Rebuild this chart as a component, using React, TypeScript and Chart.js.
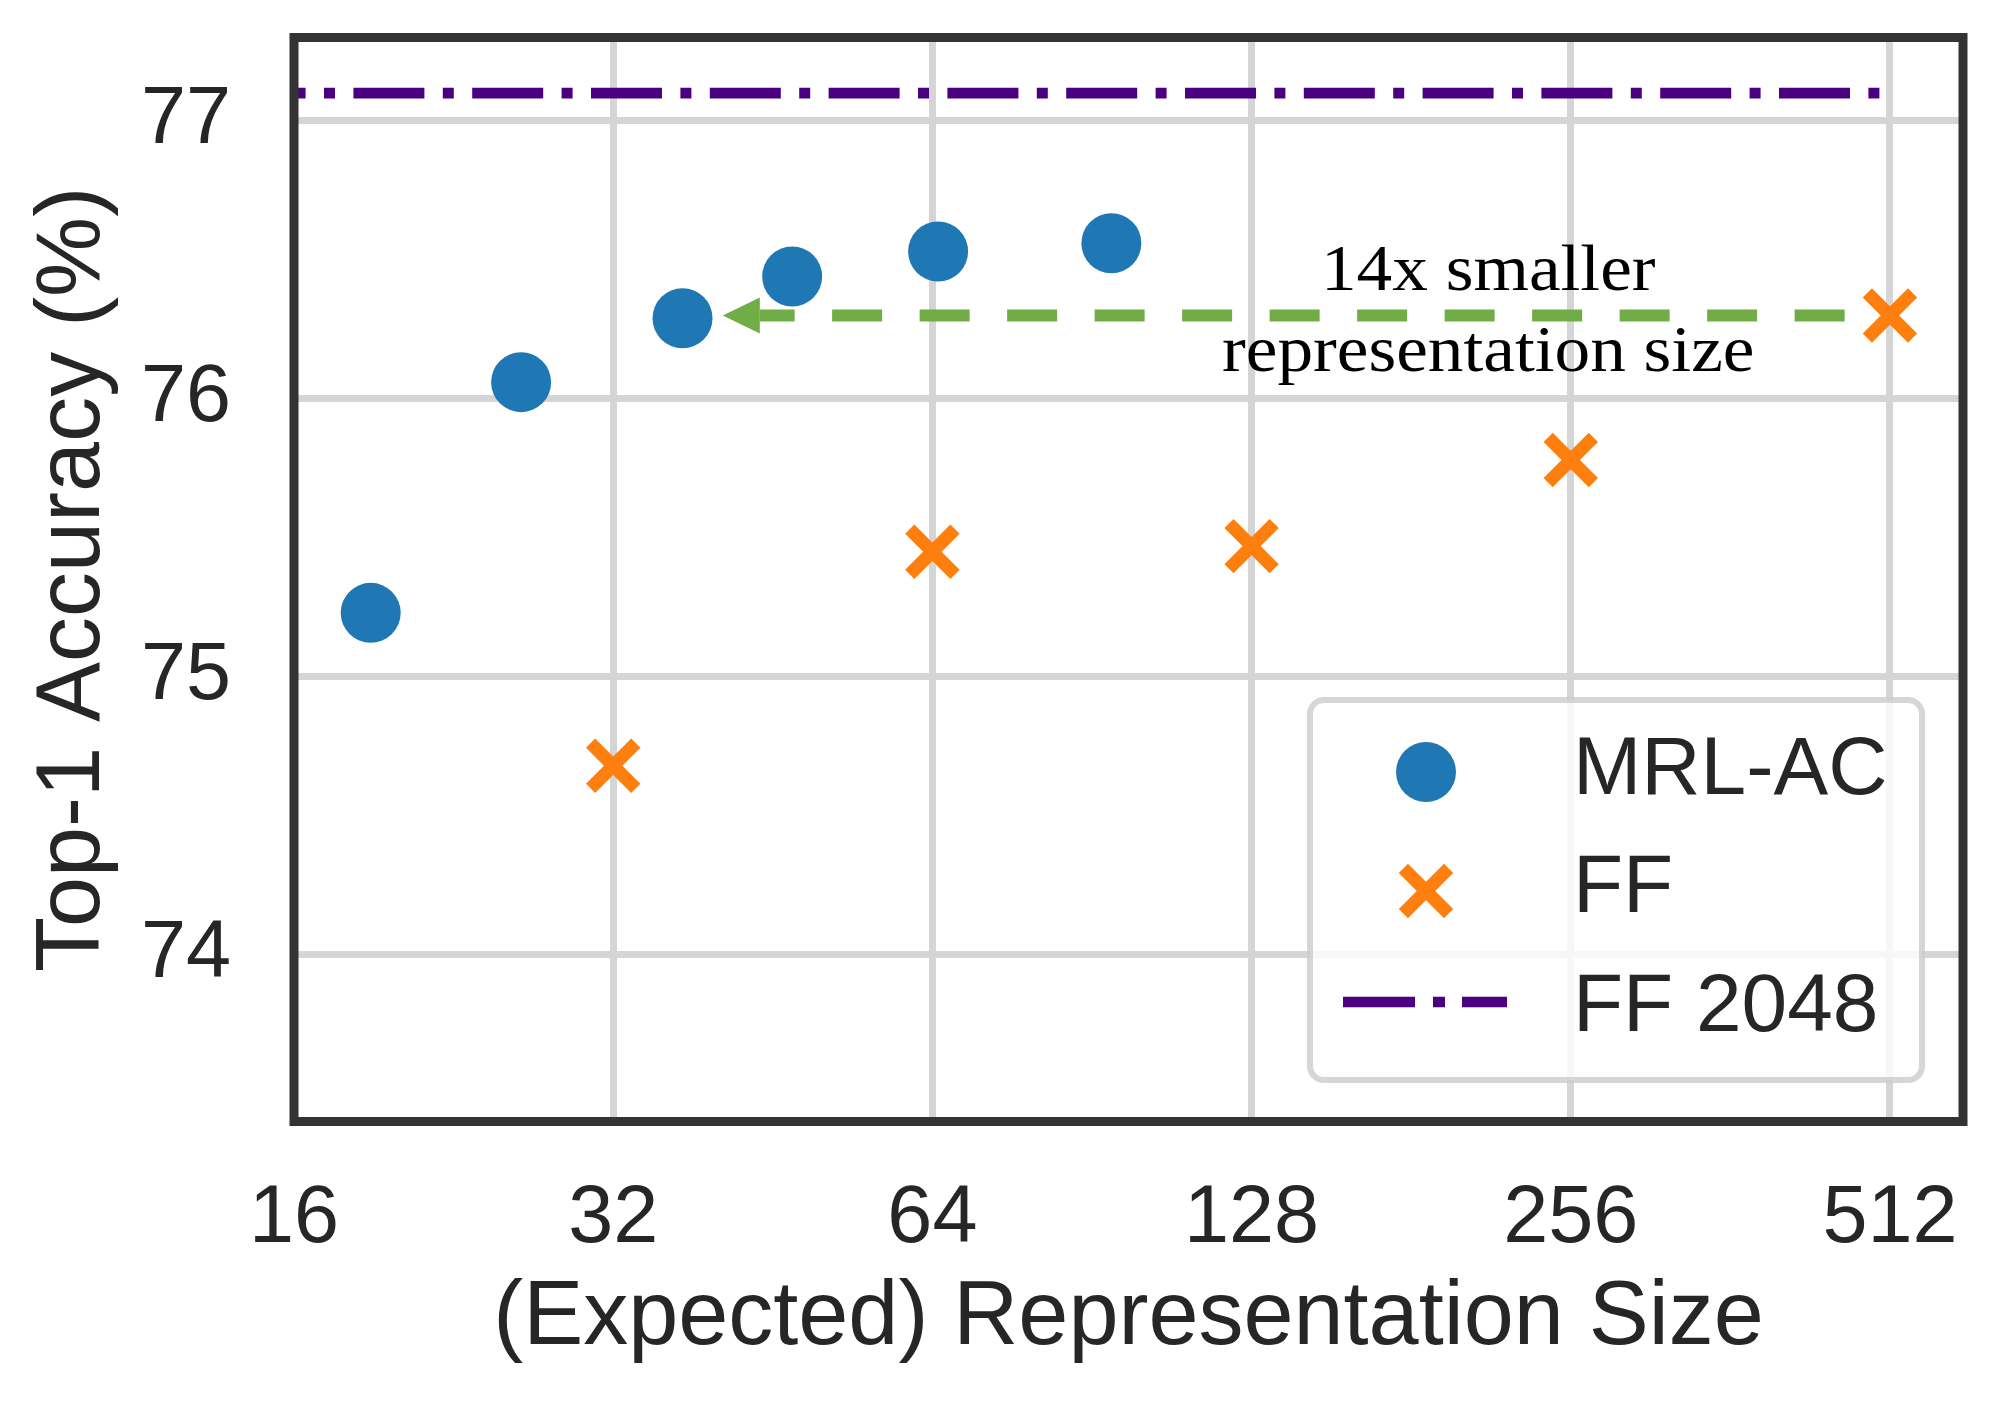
import React, { useEffect, useRef } from 'react';
import Chart from 'chart.js/auto';

// MRL-AC: expected representation size vs top-1 accuracy
const mrlSizes = [18.9, 26.2, 37.2, 47.2, 64.8, 94.4];
const mrlAcc = [75.23, 76.06, 76.29, 76.44, 76.53, 76.56];

// FF (fixed features)
const ffSizes = [32, 64, 128, 256, 512];
const ffAcc = [74.68, 75.45, 75.47, 75.78, 76.3];

// FF 2048 reference line
const ff2048Sizes = [16, 507];
const ff2048Acc = 77.1;

const xTicks = [16, 32, 64, 128, 256, 512];
const yTicks = [74, 75, 76, 77];

// annotation arrow (from FF 512 back to MRL-AC) and its note
const arrowSizes = [464, 40.6];
const arrowAcc = 76.3;
const noteLines = ['14x smaller', 'representation size'];
const noteSize = 214;
const noteAcc = [76.39, 76.1];

const BLUE = '#1f77b4';
const ORANGE = '#ff7f0e';
const INDIGO = '#4b0082';
const GREEN = '#70ad47';
const TEXT = '#262626';
const SANS = '"Liberation Sans", Arial, sans-serif';

const fixScale = (size: { width?: number; height?: number }) => (scale: any) => {
  if (size.width !== undefined) scale.width = size.width;
  if (size.height !== undefined) scale.height = size.height;
  scale.paddingLeft = 0;
  scale.paddingRight = 0;
  scale.paddingTop = 0;
  scale.paddingBottom = 0;
};

const overlay = {
  id: 'overlay',
  afterDatasetsDraw(chart: any) {
    const { ctx, chartArea: a, scales } = chart;
    const x = scales.x;
    const y = scales.y;
    ctx.save();

    // dashed arrow
    const x0 = x.getPixelForValue(arrowSizes[0]);
    const x1 = x.getPixelForValue(arrowSizes[1]);
    const ay = y.getPixelForValue(arrowAcc);
    const head = 37;
    ctx.strokeStyle = GREEN;
    ctx.lineWidth = 12;
    ctx.setLineDash([50, 37.5]);
    ctx.beginPath();
    ctx.moveTo(x0, ay);
    ctx.lineTo(x1 + head, ay);
    ctx.stroke();
    ctx.setLineDash([]);
    ctx.fillStyle = GREEN;
    ctx.beginPath();
    ctx.moveTo(x1, ay);
    ctx.lineTo(x1 + head, ay - 18);
    ctx.lineTo(x1 + head, ay + 18);
    ctx.closePath();
    ctx.fill();

    // note text
    ctx.fillStyle = '#000';
    ctx.font = '66px "Liberation Serif", "Times New Roman", serif';
    ctx.textAlign = 'center';
    ctx.textBaseline = 'alphabetic';
    const nx = x.getPixelForValue(noteSize);
    noteLines.forEach((t, i) => {
      ctx.save();
      ctx.translate(nx, y.getPixelForValue(noteAcc[i]));
      ctx.scale(1.08, 1);
      ctx.fillText(t, 0, 0);
      ctx.restore();
    });

    // frame
    ctx.strokeStyle = '#333333';
    ctx.lineWidth = 9;
    ctx.strokeRect(a.left, a.top, a.right - a.left, a.bottom - a.top);

    // legend
    const lw = 612;
    const lh = 380;
    const lx = a.right - 41 - lw;
    const ly = a.bottom - 41.5 - lh;
    ctx.beginPath();
    ctx.roundRect(lx, ly, lw, lh, 14);
    ctx.fillStyle = 'rgba(255,255,255,0.8)';
    ctx.fill();
    ctx.strokeStyle = 'rgba(204,204,204,0.8)';
    ctx.lineWidth = 6;
    ctx.stroke();

    const mx = lx + 116;
    // circle
    ctx.fillStyle = BLUE;
    ctx.beginPath();
    ctx.arc(mx, ly + 72, 30, 0, Math.PI * 2);
    ctx.fill();
    // cross
    const c = 32 * Math.SQRT1_2;
    const cy = ly + 191;
    ctx.strokeStyle = ORANGE;
    ctx.lineWidth = 13;
    ctx.beginPath();
    ctx.moveTo(mx - c, cy - c);
    ctx.lineTo(mx + c, cy + c);
    ctx.moveTo(mx - c, cy + c);
    ctx.lineTo(mx + c, cy - c);
    ctx.stroke();
    // dash-dot line
    ctx.strokeStyle = INDIGO;
    ctx.lineWidth = 10.7;
    ctx.setLineDash([72, 18, 12, 17]);
    ctx.beginPath();
    ctx.moveTo(lx + 33, ly + 302);
    ctx.lineTo(lx + 197, ly + 302);
    ctx.stroke();
    ctx.setLineDash([]);

    ctx.fillStyle = TEXT;
    ctx.font = `82px ${SANS}`;
    ctx.textAlign = 'left';
    ctx.textBaseline = 'alphabetic';
    const labels = chart.data.datasets.map((d: any) => d.label);
    [94, 212, 331].forEach((dy, i) => ctx.fillText(labels[i], lx + 263, ly + dy));

    ctx.restore();
  },
};

const App: React.FC = () => {
  const canvasRef = useRef<HTMLCanvasElement>(null);

  useEffect(() => {
    document.body.style.margin = '0';
    if (!canvasRef.current) return;
    const chart = new Chart(canvasRef.current, {
      type: 'scatter',
      data: {
        datasets: [
          {
            label: 'MRL-AC',
            data: mrlSizes.map((s, i) => ({ x: s, y: mrlAcc[i] })),
            pointStyle: 'circle',
            pointRadius: 30,
            pointBackgroundColor: BLUE,
            pointBorderWidth: 0,
            showLine: false,
          },
          {
            label: 'FF',
            data: ffSizes.map((s, i) => ({ x: s, y: ffAcc[i] })),
            pointStyle: 'crossRot',
            pointRadius: 32,
            pointBorderColor: ORANGE,
            pointBorderWidth: 13,
            showLine: false,
          },
          {
            label: 'FF 2048',
            data: ff2048Sizes.map((s) => ({ x: s, y: ff2048Acc })),
            showLine: true,
            borderColor: INDIGO,
            borderWidth: 10.7,
            borderDash: [71, 18.4, 11, 18.4],
            borderDashOffset: 59.4,
            pointRadius: 0,
            fill: false,
          },
        ],
      } as any,
      options: {
        animation: false,
        responsive: false,
        devicePixelRatio: 1,
        layout: { autoPadding: false, padding: { left: 0, top: 37.5, right: 37, bottom: 0 } },
        plugins: { legend: { display: false }, tooltip: { enabled: false } },
        scales: {
          x: {
            type: 'logarithmic',
            min: 16,
            max: 600,
            afterBuildTicks: (s: any) => {
              s.ticks = xTicks.map((v) => ({ value: v }));
            },
            afterFit: fixScale({ height: 286.5 }),
            grid: { color: '#d5d5d5', lineWidth: 7, drawTicks: false },
            border: { display: false },
            ticks: {
              autoSkip: false,
              maxRotation: 0,
              minRotation: 0,
              padding: 58,
              color: TEXT,
              font: { family: SANS, size: 81, lineHeight: 1 },
              callback: (v: any) => String(v),
            },
            title: {
              display: true,
              text: '(Expected) Representation Size',
              color: TEXT,
              font: { family: SANS, size: 90, lineHeight: 1 },
              padding: { top: 0, bottom: 44 },
            },
          },
          y: {
            type: 'linear',
            min: 73.4,
            max: 77.3,
            afterBuildTicks: (s: any) => {
              s.ticks = yTicks.map((v) => ({ value: v }));
            },
            afterFit: fixScale({ width: 294 }),
            grid: { color: '#d5d5d5', lineWidth: 7, drawTicks: false },
            border: { display: false },
            ticks: {
              padding: 63,
              color: TEXT,
              font: { family: SANS, size: 81, lineHeight: 1 },
              callback: (v: any) => String(v),
            },
            title: {
              display: true,
              text: 'Top-1 Accuracy (%)',
              color: TEXT,
              font: { family: SANS, size: 90, lineHeight: 1 },
              padding: { top: 29, bottom: 0 },
            },
          },
        },
      } as any,
      plugins: [overlay],
    });
    return () => chart.destroy();
  }, []);

  return (
    <div style={{ width: 2000, height: 1408, background: '#fff' }}>
      <canvas ref={canvasRef} width={2000} height={1408} />
    </div>
  );
};

export default App;
